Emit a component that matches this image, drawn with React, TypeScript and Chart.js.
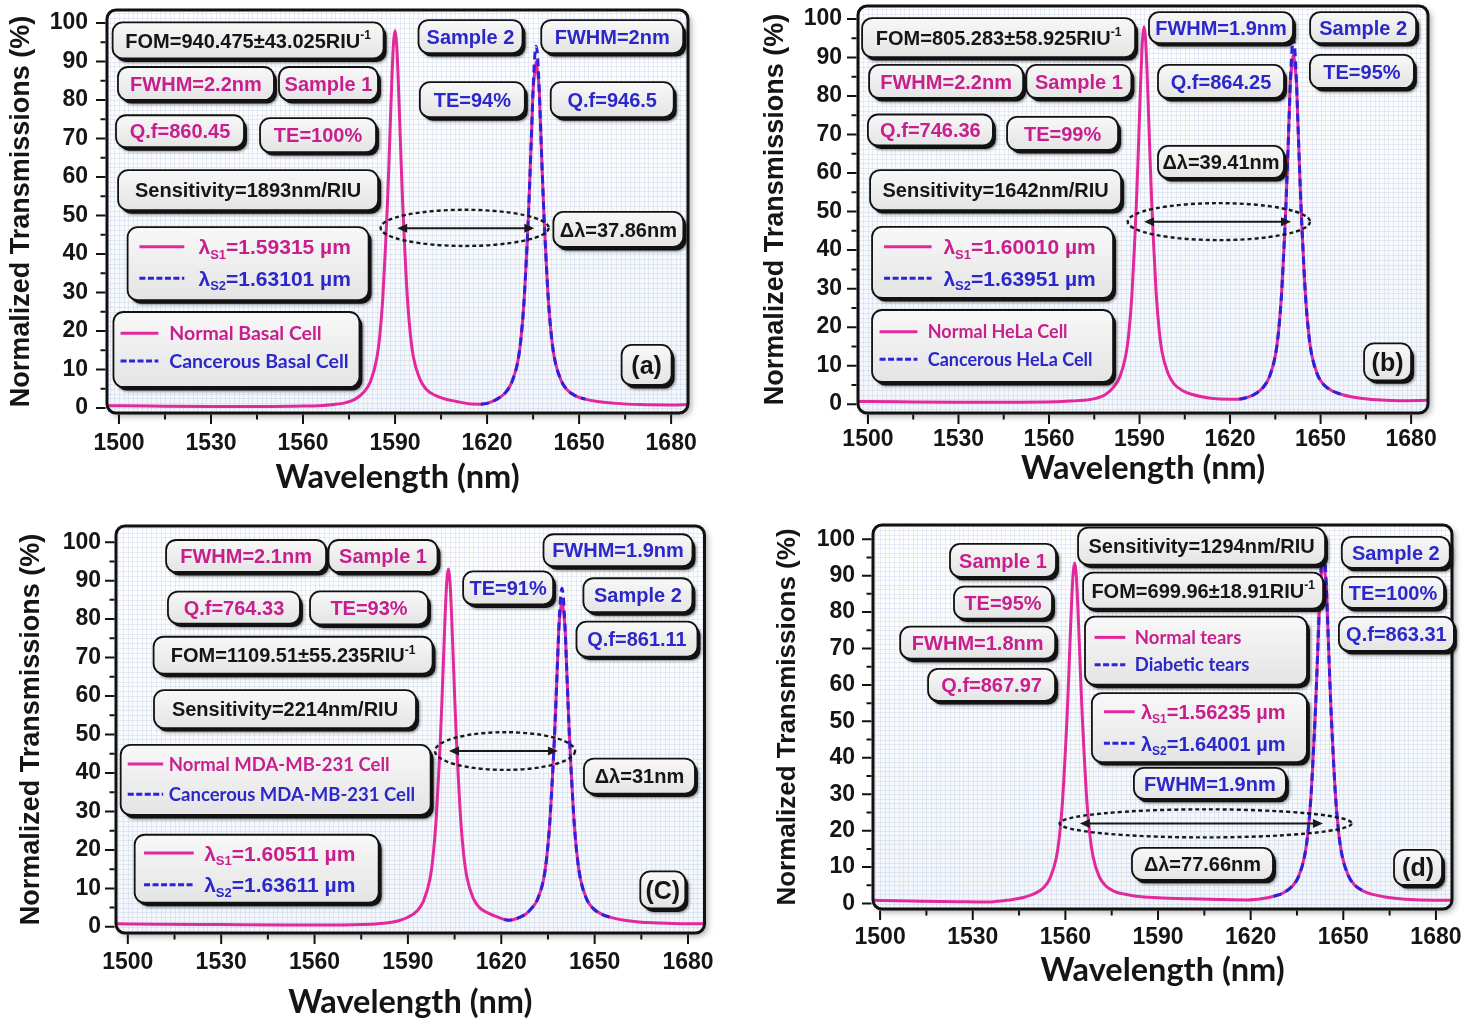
import { useEffect, useRef } from "react";
import { Chart, registerables } from "chart.js";

Chart.register(...registerables);

// ---------------- Data ----------------
const X_MAJOR_TICKS = [1500, 1530, 1560, 1590, 1620, 1650, 1680];
const X_MINOR_TICKS = [1515, 1545, 1575, 1605, 1635, 1665];
const Y_MAJOR_TICKS = [0, 10, 20, 30, 40, 50, 60, 70, 80, 90, 100];
const Y_MINOR_TICKS = [5, 15, 25, 35, 45, 55, 65, 75, 85, 95];
const X_TITLE = "Wavelength (nm)";
const Y_TITLE = "Normalized Transmissions (%)";

// Panel (a) – Basal cell
const A_NORMAL_WL = [1496, 1510, 1530, 1550, 1560, 1565, 1570, 1574, 1577, 1580, 1582, 1584, 1585, 1586, 1587, 1587.5, 1588, 1588.5, 1589, 1589.5, 1590, 1590.5, 1591, 1591.5, 1592, 1592.5, 1593, 1594, 1595, 1596, 1598, 1600, 1603, 1606, 1610, 1614, 1618, 1620, 1623, 1626, 1628, 1630, 1631, 1632, 1633, 1633.5, 1634, 1634.5, 1635, 1635.5, 1636, 1636.5, 1637, 1637.5, 1638, 1638.5, 1639, 1640, 1641, 1642, 1644, 1646, 1649, 1652, 1656, 1662, 1670, 1680, 1686];
const A_NORMAL_T = [0.6, 0.5, 0.4, 0.4, 0.5, 0.6, 0.9, 1.4, 2.3, 4.3, 6.9, 12.7, 18.6, 28.4, 43.8, 52.7, 63.3, 74.9, 86.1, 94.8, 98.0, 94.8, 86.1, 74.9, 63.4, 52.9, 44.1, 28.8, 19.1, 13.2, 7.7, 5.0, 3.3, 2.4, 1.7, 1.1, 1.0, 1.2, 2.2, 4.0, 6.6, 12.0, 17.7, 27.1, 41.8, 50.4, 60.6, 71.7, 82.5, 87.0, 90.0, 87.0, 82.6, 71.9, 60.9, 50.9, 42.4, 27.8, 18.5, 12.8, 7.4, 4.8, 3.1, 2.3, 1.7, 1.2, 0.9, 0.8, 0.9];
const A_CANCER_WL = [1618, 1620, 1623, 1626, 1628, 1630, 1631, 1632, 1633, 1633.5, 1634, 1634.5, 1635, 1635.5, 1636, 1636.5, 1637, 1637.5, 1638, 1638.5, 1639, 1640, 1641, 1642, 1644, 1646, 1649, 1652];
const A_CANCER_T = [1.0, 1.2, 2.2, 4.0, 6.6, 12.0, 17.7, 27.1, 41.8, 50.4, 60.6, 71.7, 82.5, 90.9, 94.0, 90.9, 82.6, 71.9, 60.9, 50.9, 42.4, 27.8, 18.5, 12.8, 7.4, 4.8, 3.1, 2.3];

// Panel (b) – HeLa cell
const B_NORMAL_WL = [1496, 1510, 1530, 1550, 1562, 1567, 1571.5, 1575.5, 1578.5, 1581.5, 1583.5, 1585.5, 1586.5, 1587.5, 1588.5, 1589, 1589.5, 1590, 1590.5, 1591, 1591.5, 1592, 1592.5, 1593, 1593.5, 1594, 1594.5, 1595.5, 1596.5, 1597.5, 1599.5, 1601.5, 1604.5, 1607.5, 1611.5, 1615.5, 1620, 1623, 1625, 1628, 1631, 1633, 1635, 1636, 1637, 1638, 1638.5, 1639, 1639.5, 1640, 1640.5, 1641, 1641.5, 1642, 1642.5, 1643, 1643.5, 1644, 1645, 1646, 1647, 1649, 1651, 1654, 1657, 1661, 1667, 1676, 1686];
const B_NORMAL_T = [0.7, 0.6, 0.5, 0.5, 0.6, 0.8, 1.0, 1.5, 2.4, 4.5, 7.1, 12.9, 18.8, 28.6, 44.0, 52.9, 63.5, 75.0, 86.2, 94.8, 98.0, 94.8, 86.2, 75.0, 63.6, 53.1, 44.3, 29.0, 19.3, 13.4, 7.9, 5.2, 3.4, 2.5, 1.8, 1.4, 1.3, 1.3, 1.6, 2.5, 4.4, 7.0, 12.6, 18.3, 27.8, 42.7, 51.3, 61.6, 72.8, 83.7, 88.0, 91.0, 88.0, 83.7, 72.9, 61.8, 51.6, 43.0, 28.2, 18.8, 13.1, 7.6, 5.1, 3.4, 2.5, 1.8, 1.2, 0.9, 1.0];
const B_CANCER_WL = [1623, 1625, 1628, 1631, 1633, 1635, 1636, 1637, 1638, 1638.5, 1639, 1639.5, 1640, 1640.5, 1641, 1641.5, 1642, 1642.5, 1643, 1643.5, 1644, 1645, 1646, 1647, 1649, 1651, 1654, 1657];
const B_CANCER_T = [1.3, 1.6, 2.5, 4.4, 7.0, 12.6, 18.3, 27.8, 42.7, 51.3, 61.6, 72.8, 83.7, 91.9, 95.0, 91.9, 83.7, 72.9, 61.8, 51.6, 43.0, 28.2, 18.8, 13.1, 7.6, 5.1, 3.4, 2.5];

// Panel (c) – MDA-MB-231 cell
const C_NORMAL_WL = [1496, 1510, 1530, 1550, 1566, 1578, 1583, 1587, 1590, 1593, 1595, 1597, 1598, 1599, 1600, 1600.5, 1601, 1601.5, 1602, 1602.5, 1603, 1603.5, 1604, 1604.5, 1605, 1605.5, 1606, 1607, 1608, 1609, 1611, 1613, 1616, 1619, 1621, 1622.5, 1624, 1626, 1628, 1629.5, 1631.5, 1633.5, 1634.5, 1635.5, 1636.5, 1637, 1637.5, 1638, 1638.5, 1639, 1639.5, 1640, 1640.5, 1641, 1641.5, 1642, 1642.5, 1643.5, 1644.5, 1645.5, 1647.5, 1649.5, 1652.5, 1655.5, 1659.5, 1665, 1675, 1686];
const C_NORMAL_T = [0.8, 0.7, 0.6, 0.5, 0.5, 0.7, 1.0, 1.6, 2.5, 4.2, 6.7, 12.1, 17.7, 27.0, 41.6, 50.0, 60.1, 71.1, 81.7, 89.9, 93.0, 89.9, 81.7, 71.1, 60.2, 50.2, 41.9, 27.4, 18.2, 12.7, 7.4, 5.0, 3.5, 2.5, 1.9, 1.7, 1.9, 2.5, 3.4, 4.6, 6.9, 12.0, 17.3, 26.1, 39.9, 47.8, 57.2, 67.5, 77.6, 82.0, 85.0, 82.0, 77.6, 67.5, 57.2, 47.8, 39.9, 26.2, 17.5, 12.2, 7.1, 4.8, 3.2, 2.4, 1.7, 1.2, 0.9, 0.8];
const C_CANCER_WL = [1621, 1622.5, 1624, 1626, 1628, 1629.5, 1631.5, 1633.5, 1634.5, 1635.5, 1636.5, 1637, 1637.5, 1638, 1638.5, 1639, 1639.5, 1640, 1640.5, 1641, 1641.5, 1642, 1642.5, 1643.5, 1644.5, 1645.5, 1647.5, 1649.5, 1652.5, 1655.5];
const C_CANCER_T = [1.9, 1.7, 1.9, 2.5, 3.4, 4.6, 6.9, 12.0, 17.3, 26.1, 39.9, 47.8, 57.2, 67.5, 77.6, 85.1, 88.0, 85.1, 77.6, 67.5, 57.2, 47.8, 39.9, 26.2, 17.5, 12.2, 7.1, 4.8, 3.2, 2.4];

// Panel (d) – tears
const D_NORMAL_WL = [1496, 1510, 1525, 1535, 1538, 1543, 1547, 1550, 1553, 1555, 1557, 1558, 1559, 1560, 1560.5, 1561, 1561.5, 1562, 1562.5, 1563, 1563.5, 1564, 1564.5, 1565, 1565.5, 1566, 1567, 1568, 1569, 1571, 1573, 1576, 1579, 1583, 1590, 1600, 1610, 1619, 1624, 1627.5, 1630.5, 1633.5, 1635.5, 1637.5, 1638.5, 1639.5, 1640.5, 1641, 1641.5, 1642, 1642.5, 1643, 1643.5, 1644, 1644.5, 1645, 1645.5, 1646, 1646.5, 1647.5, 1648.5, 1649.5, 1651.5, 1653.5, 1656.5, 1659.5, 1663.5, 1670, 1680, 1686];
const D_NORMAL_T = [0.9, 0.7, 0.5, 0.4, 0.6, 1.1, 1.8, 2.7, 4.4, 6.9, 12.3, 17.9, 27.2, 41.9, 50.4, 60.5, 71.5, 82.3, 90.5, 93.5, 90.5, 82.3, 71.6, 60.7, 50.7, 42.3, 27.6, 18.3, 12.7, 7.3, 4.9, 3.3, 2.6, 2.0, 1.6, 1.3, 1.1, 1.0, 1.4, 2.0, 2.9, 4.8, 7.4, 13.2, 19.1, 29.0, 44.6, 53.6, 64.3, 75.9, 87.3, 91.0, 94.0, 91.0, 87.3, 75.9, 64.3, 53.6, 44.6, 29.3, 19.5, 13.6, 7.9, 5.2, 3.4, 2.5, 1.8, 1.2, 0.9, 0.9];
const D_CANCER_WL = [1627.5, 1630.5, 1633.5, 1635.5, 1637.5, 1638.5, 1639.5, 1640.5, 1641, 1641.5, 1642, 1642.5, 1643, 1643.5, 1644, 1644.5, 1645, 1645.5, 1646, 1646.5, 1647.5, 1648.5, 1649.5, 1651.5, 1653.5, 1656.5];
const D_CANCER_T = [2.0, 2.9, 4.8, 7.4, 13.2, 19.1, 29.0, 44.6, 53.6, 64.3, 75.9, 87.3, 95.7, 99.0, 95.7, 87.3, 75.9, 64.3, 53.6, 44.6, 29.3, 19.5, 13.6, 7.9, 5.2, 3.4];

// ---------------- Styles ----------------
const INK = "#151515";
const MAG_LINE = "#e2289d";
const BLU_LINE = "#2a22dc";
const MAG_TXT = "#c81f8e";
const BLU_TXT = "#2b28c9";
const SANS = '"Liberation Sans", Arial, Helvetica, sans-serif';
const LEG = 'Lato, "Open Sans", sans-serif';

const P = (t: string) => ({ t });
const SUP = (t: string) => ({ t, sup: true });
const SUB = (t: string) => ({ t, sub: true });

function textBox(x: number, y: number, w: number, h: number, parts: any[], color: string, size = 20) {
  return { kind: "text", x, y, w, h, parts, color, size };
}
function lambdaLegend(x: number, y: number, w: number, h: number, l1: string, l2: string, o: any) {
  return {
    kind: "legend", x, y, w, h, family: SANS, weight: "bold", ...o,
    rows: [
      { parts: [P("λ"), SUB("S1"), P("=" + l1 + " µm")], color: MAG_TXT, dashed: false },
      { parts: [P("λ"), SUB("S2"), P("=" + l2 + " µm")], color: BLU_TXT, dashed: true },
    ],
  };
}
function seriesLegend(x: number, y: number, w: number, h: number, n1: string, n2: string, o: any) {
  return {
    kind: "legend", x, y, w, h, family: LEG, weight: "bold", ...o,
    rows: [
      { parts: [P(n1)], color: MAG_TXT, dashed: false },
      { parts: [P(n2)], color: BLU_TXT, dashed: true },
    ],
  };
}

const PANEL_A = {
  pos: { left: 0, top: 0, width: 740, height: 500 },
  area: { left: 107, top: 10, right: 688, bottom: 413 },
  xMin: 1496.1, xMax: 1685.5, yMin: -1.3, yMax: 103.4,
  normal: [A_NORMAL_WL, A_NORMAL_T], cancer: [A_CANCER_WL, A_CANCER_T],
  yLabelPad: 19, xLabelPad: 16.5, xTitlePad: 3, yTitlePad: 5, yTitleSize: 27,
  boxes: [
    textBox(1542.1, 95.5, 271, 36, [P("FOM=940.475±43.025RIU"), SUP("-1")], INK),
    textBox(1525.1, 84.3, 156, 33, [P("FWHM=2.2nm")], MAG_TXT),
    textBox(1568.3, 84.3, 99, 33, [P("Sample 1")], MAG_TXT),
    textBox(1519.9, 71.9, 128, 32, [P("Q.f=860.45")], MAG_TXT),
    textBox(1564.9, 70.9, 116, 34, [P("TE=100%")], MAG_TXT),
    textBox(1542.1, 56.6, 260, 40, [P("Sensitivity=1893nm/RIU")], INK),
    lambdaLegend(1542.1, 37.5, 241, 73, "1.59315", "1.63101", { rowY: [19.7, 51], sample: [11.8, 56.7], textX: 70.9, size: 21 }),
    seriesLegend(1538.3, 15.2, 246, 75, "Normal Basal Cell", "Cancerous Basal Cell", { rowY: [21.3, 49], sample: [7.1, 44.9], textX: 55.8, size: 19.5 }),
    textBox(1614.6, 96.5, 104, 33, [P("Sample 2")], BLU_TXT),
    textBox(1660.8, 96.5, 142, 33, [P("FWHM=2nm")], BLU_TXT),
    textBox(1615.2, 80.1, 105, 35, [P("TE=94%")], BLU_TXT),
    textBox(1660.8, 80.1, 123, 35, [P("Q.f=946.5")], BLU_TXT),
    textBox(1662.8, 46.4, 130, 35, [P("Δλ=37.86nm")], INK),
    textBox(1672.0, 11.2, 50, 40, [P("(a)")], INK, 25),
  ],
  ellipse: { x: 1612.7, y: 46.8, rx: 27.4, ry: 4.7 },
  arrow: { x1: 1590.7, x2: 1635.4, y: 46.7 },
};

const PANEL_B = {
  pos: { left: 740, top: 0, width: 741, height: 500 },
  area: { left: 118, top: 6, right: 688, bottom: 413 },
  xMin: 1496.7, xMax: 1685.6, yMin: -2.3, yMax: 103.4,
  normal: [B_NORMAL_WL, B_NORMAL_T], cancer: [B_CANCER_WL, B_CANCER_T],
  yLabelPad: 16, xLabelPad: 13, xTitlePad: 12, yTitlePad: 19, yTitleSize: 27,
  boxes: [
    textBox(1543.3, 95.2, 273, 39, [P("FOM=805.283±58.925RIU"), SUP("-1")], INK),
    textBox(1525.9, 83.8, 154, 33, [P("FWHM=2.2nm")], MAG_TXT),
    textBox(1569.9, 83.8, 105, 33, [P("Sample 1")], MAG_TXT),
    textBox(1520.7, 71.2, 125, 31, [P("Q.f=746.36")], MAG_TXT),
    textBox(1564.5, 70.3, 111, 33, [P("TE=99%")], MAG_TXT),
    textBox(1542.3, 55.6, 251, 40, [P("Sensitivity=1642nm/RIU")], INK),
    lambdaLegend(1541.3, 36.8, 241, 71, "1.60010", "1.63951", { rowY: [19.7, 51.3], sample: [12, 59.5], textX: 71.3, size: 21 }),
    seriesLegend(1541.3, 15.1, 241, 72, "Normal HeLa Cell", "Cancerous HeLa Cell", { rowY: [21.7, 49.3], sample: [7.5, 45.3], textX: 55.7, size: 18 }),
    textBox(1617.0, 97.8, 144, 31, [P("FWHM=1.9nm")], BLU_TXT),
    textBox(1664.1, 97.8, 106, 31, [P("Sample 2")], BLU_TXT),
    textBox(1617.0, 83.8, 126, 33, [P("Q.f=864.25")], BLU_TXT),
    textBox(1663.7, 86.4, 104, 33, [P("TE=95%")], BLU_TXT),
    textBox(1617.0, 62.9, 126, 32, [P("Δλ=39.41nm")], INK),
    textBox(1672.2, 11.0, 47, 37, [P("(b)")], INK, 25),
  ],
  ellipse: { x: 1616.3, y: 47.4, rx: 30.2, ry: 4.8 },
  arrow: { x1: 1591.5, x2: 1640.2, y: 47.4 },
};

const PANEL_C = {
  pos: { left: 0, top: 510, width: 740, height: 515 },
  area: { left: 116, top: 16, right: 704.5, bottom: 423 },
  xMin: 1496.2, xMax: 1685.3, yMin: -1.6, yMax: 104.2,
  normal: [C_NORMAL_WL, C_NORMAL_T], cancer: [C_CANCER_WL, C_CANCER_T],
  yLabelPad: 15, xLabelPad: 16, xTitlePad: 2.5, yTitlePad: 15, yTitleSize: 27,
  boxes: [
    textBox(1538.0, 96.4, 160, 32, [P("FWHM=2.1nm")], MAG_TXT),
    textBox(1582.0, 96.4, 109, 32, [P("Sample 1")], MAG_TXT),
    textBox(1534.1, 83.0, 132, 32, [P("Q.f=764.33")], MAG_TXT),
    textBox(1577.5, 82.9, 118, 33, [P("TE=93%")], MAG_TXT),
    textBox(1553.1, 70.6, 279, 37, [P("FOM=1109.51±55.235RIU"), SUP("-1")], INK),
    textBox(1550.5, 56.6, 262, 38, [P("Sensitivity=2214nm/RIU")], INK),
    seriesLegend(1547.5, 38.2, 310, 70, "Normal MDA-MB-231 Cell", "Cancerous MDA-MB-231 Cell", { rowY: [19, 49.4], sample: [7.1, 42.5], textX: 48.2, size: 18.5 }),
    lambdaLegend(1541.4, 15.1, 244, 68, "1.60511", "1.63611", { rowY: [18.3, 50], sample: [9.4, 59.1], textX: 69.5, size: 21 }),
    textBox(1622.2, 88.1, 90, 33, [P("TE=91%")], BLU_TXT),
    textBox(1657.5, 97.9, 149, 32, [P("FWHM=1.9nm")], BLU_TXT),
    textBox(1663.9, 86.2, 109, 34, [P("Sample 2")], BLU_TXT),
    textBox(1663.6, 74.8, 121, 35, [P("Q.f=861.11")], BLU_TXT),
    textBox(1664.4, 39.2, 111, 35, [P("Δλ=31nm")], INK),
    textBox(1671.9, 9.6, 45, 37, [P("(C)")], INK, 25),
  ],
  ellipse: { x: 1621.2, y: 45.7, rx: 22.5, ry: 4.9 },
  arrow: { x1: 1603.2, x2: 1638.2, y: 45.7 },
};

const PANEL_D = {
  pos: { left: 740, top: 510, width: 741, height: 515 },
  area: { left: 133, top: 15, right: 712, bottom: 399 },
  xMin: 1497.7, xMax: 1685.2, yMin: -1.5, yMax: 103.9,
  normal: [D_NORMAL_WL, D_NORMAL_T], cancer: [D_CANCER_WL, D_CANCER_T],
  yLabelPad: 18, xLabelPad: 15, xTitlePad: 35, yTitlePad: 32, yTitleSize: 26,
  boxes: [
    textBox(1539.8, 94.2, 106, 33, [P("Sample 1")], MAG_TXT),
    textBox(1539.8, 82.6, 98, 32, [P("TE=95%")], MAG_TXT),
    textBox(1531.6, 71.6, 155, 32, [P("FWHM=1.8nm")], MAG_TXT),
    textBox(1536.1, 60.0, 127, 32, [P("Q.f=867.97")], MAG_TXT),
    textBox(1604.1, 98.1, 247, 37, [P("Sensitivity=1294nm/RIU")], INK),
    textBox(1604.6, 85.9, 240, 36, [P("FOM=699.96±18.91RIU"), SUP("-1")], INK),
    seriesLegend(1602.3, 69.4, 222, 68, "Normal tears", "Diabetic tears", { rowY: [20.7, 48], sample: [9.6, 40.3], textX: 49.8, size: 18.5 }),
    lambdaLegend(1603.4, 48.3, 215, 69, "1.56235", "1.64001", { rowY: [18.7, 50.3], sample: [12, 42.8], textX: 49, size: 20 }),
    textBox(1606.8, 33.0, 152, 31, [P("FWHM=1.9nm")], BLU_TXT),
    textBox(1604.4, 10.9, 141, 32, [P("Δλ=77.66nm")], INK),
    textBox(1667.0, 96.4, 108, 31, [P("Sample 2")], BLU_TXT),
    textBox(1666.1, 85.4, 102, 31, [P("TE=100%")], BLU_TXT),
    textBox(1667.2, 74.0, 115, 34, [P("Q.f=863.31")], BLU_TXT),
    textBox(1674.2, 9.9, 48, 35, [P("(d)")], INK, 25),
  ],
  ellipse: { x: 1605.4, y: 22.0, rx: 47.3, ry: 3.85 },
  arrow: { x1: 1564.7, x2: 1643.4, y: 22.0 },
};

const PANELS = [PANEL_A, PANEL_B, PANEL_C, PANEL_D];

// ---------------- Drawing helpers ----------------
function rr(ctx: CanvasRenderingContext2D, x: number, y: number, w: number, h: number, r: number) {
  ctx.beginPath();
  ctx.moveTo(x + r, y);
  ctx.arcTo(x + w, y, x + w, y + h, r);
  ctx.arcTo(x + w, y + h, x, y + h, r);
  ctx.arcTo(x, y + h, x, y, r);
  ctx.arcTo(x, y, x + w, y, r);
  ctx.closePath();
}

function drawRich(ctx: CanvasRenderingContext2D, parts: any[], x: number, y: number, size: number, family: string, weight: string, color: string, align: string) {
  const sm = Math.round(size * 0.62);
  const segs = parts.map((p: any) => {
    const s = p.sup || p.sub ? sm : size;
    ctx.font = `${weight} ${s}px ${family}`;
    return { p, s, w: ctx.measureText(p.t).width };
  });
  const total = segs.reduce((a: number, b: any) => a + b.w, 0);
  let cx = align === "center" ? x - total / 2 : x;
  const base = y + size * 0.36;
  ctx.fillStyle = color;
  ctx.textAlign = "left";
  ctx.textBaseline = "alphabetic";
  for (const sg of segs) {
    ctx.font = `${weight} ${sg.s}px ${family}`;
    const dy = sg.p.sup ? -size * 0.42 : sg.p.sub ? size * 0.22 : 0;
    ctx.fillText(sg.p.t, cx, base + dy);
    cx += sg.w;
  }
}

function drawBox(ctx: CanvasRenderingContext2D, x: number, y: number, w: number, h: number) {
  const r = Math.min(10, h / 3);
  ctx.save();
  ctx.shadowColor = "rgba(0,0,0,0.45)";
  ctx.shadowBlur = 3;
  ctx.shadowOffsetX = 1;
  ctx.shadowOffsetY = 1;
  rr(ctx, x + 3, y + 3.5, w, h, r);
  ctx.fillStyle = "#121212";
  ctx.fill();
  ctx.restore();
  ctx.save();
  const g = ctx.createLinearGradient(0, y, 0, y + h);
  g.addColorStop(0, "#f8f8f8");
  g.addColorStop(1, "#e4e4e4");
  rr(ctx, x, y, w, h, r);
  ctx.fillStyle = g;
  ctx.fill();
  ctx.lineWidth = 1.8;
  ctx.strokeStyle = "#121212";
  ctx.stroke();
  ctx.restore();
}

function decorPlugin(spec: any) {
  return {
    id: "decor",
    beforeDatasetsDraw(chart: any) {
      const { ctx, chartArea: a } = chart;
      const xs = chart.scales.x;
      const ys = chart.scales.y;
      const w = a.right - a.left;
      const h = a.bottom - a.top;
      ctx.save();
      ctx.shadowColor = "rgba(0,0,0,0.35)";
      ctx.shadowBlur = 6;
      ctx.shadowOffsetX = 3;
      ctx.shadowOffsetY = 3;
      rr(ctx, a.left, a.top, w, h, 9);
      ctx.fillStyle = "#fbfcfe";
      ctx.fill();
      ctx.restore();
      ctx.save();
      rr(ctx, a.left, a.top, w, h, 9);
      ctx.clip();
      const g = ctx.createLinearGradient(0, a.top, 0, a.bottom);
      g.addColorStop(0, "#fefeff");
      g.addColorStop(1, "#f2f6fb");
      ctx.fillStyle = g;
      ctx.fillRect(a.left, a.top, w, h);
      ctx.strokeStyle = "rgba(150,172,205,0.2)";
      ctx.lineWidth = 1;
      ctx.beginPath();
      for (let v = 1494; v <= spec.xMax; v += 1.5) {
        const px = Math.round(xs.getPixelForValue(v)) + 0.5;
        ctx.moveTo(px, a.top);
        ctx.lineTo(px, a.bottom);
      }
      for (let v = -2.5; v <= spec.yMax; v += 1.25) {
        const py = Math.round(ys.getPixelForValue(v)) + 0.5;
        ctx.moveTo(a.left, py);
        ctx.lineTo(a.right, py);
      }
      ctx.stroke();
      ctx.restore();
    },
    afterDatasetsDraw(chart: any) {
      const { ctx, chartArea: a } = chart;
      const xs = chart.scales.x;
      const ys = chart.scales.y;
      // frame
      ctx.save();
      rr(ctx, a.left, a.top, a.right - a.left, a.bottom - a.top, 9);
      ctx.lineWidth = 3;
      ctx.strokeStyle = "#111";
      ctx.stroke();
      // tick marks
      ctx.lineWidth = 2;
      ctx.beginPath();
      for (const t of xs.ticks) {
        const px = xs.getPixelForValue(t.value);
        const major = X_MAJOR_TICKS.includes(t.value);
        ctx.moveTo(px, a.bottom + 1.5);
        ctx.lineTo(px, a.bottom + (major ? 11 : 6.5));
      }
      for (const t of ys.ticks) {
        const py = ys.getPixelForValue(t.value);
        const major = Y_MAJOR_TICKS.includes(t.value);
        ctx.moveTo(a.left - 1.5, py);
        ctx.lineTo(a.left - (major ? 11 : 6.5), py);
      }
      ctx.stroke();
      ctx.restore();

      // dashed ellipse + double arrow
      const e = spec.ellipse;
      const ex = xs.getPixelForValue(e.x);
      const ey = ys.getPixelForValue(e.y);
      const erx = Math.abs(xs.getPixelForValue(e.x + e.rx) - ex);
      const ery = Math.abs(ys.getPixelForValue(e.y + e.ry) - ey);
      ctx.save();
      ctx.setLineDash([4, 3]);
      ctx.lineWidth = 2.4;
      ctx.strokeStyle = "#1a1a1a";
      ctx.beginPath();
      ctx.ellipse(ex, ey, erx, ery, 0, 0, Math.PI * 2);
      ctx.stroke();
      ctx.setLineDash([]);
      const ar = spec.arrow;
      const ax1 = xs.getPixelForValue(ar.x1);
      const ax2 = xs.getPixelForValue(ar.x2);
      const ay = ys.getPixelForValue(ar.y);
      ctx.lineWidth = 2;
      ctx.beginPath();
      ctx.moveTo(ax1 + 6, ay);
      ctx.lineTo(ax2 - 6, ay);
      ctx.stroke();
      ctx.fillStyle = "#1a1a1a";
      ctx.beginPath();
      ctx.moveTo(ax1, ay);
      ctx.lineTo(ax1 + 10, ay - 4.5);
      ctx.lineTo(ax1 + 10, ay + 4.5);
      ctx.closePath();
      ctx.fill();
      ctx.beginPath();
      ctx.moveTo(ax2, ay);
      ctx.lineTo(ax2 - 10, ay - 4.5);
      ctx.lineTo(ax2 - 10, ay + 4.5);
      ctx.closePath();
      ctx.fill();
      ctx.restore();

      // annotation boxes
      for (const b of spec.boxes) {
        const cx = xs.getPixelForValue(b.x);
        const cy = ys.getPixelForValue(b.y);
        const left = cx - b.w / 2;
        const top = cy - b.h / 2;
        drawBox(ctx, left, top, b.w, b.h);
        ctx.save();
        if (b.kind === "text") {
          drawRich(ctx, b.parts, cx, cy, b.size, SANS, "bold", b.color, "center");
        } else {
          b.rows.forEach((row: any, i: number) => {
            const ry = top + b.rowY[i];
            const sx0 = left + b.sample[0];
            const sx1 = left + b.sample[1];
            ctx.save();
            ctx.lineWidth = 3;
            ctx.beginPath();
            ctx.moveTo(sx0, ry);
            ctx.lineTo(sx1, ry);
            if (row.dashed) {
              ctx.setLineDash([6, 2.5]);
              ctx.strokeStyle = BLU_LINE;
            } else {
              ctx.strokeStyle = MAG_LINE;
            }
            ctx.stroke();
            ctx.restore();
            drawRich(ctx, row.parts, left + b.textX, ry, b.size, b.family, b.weight, row.color, "left");
          });
        }
        ctx.restore();
      }
    },
  };
}

function makeChart(canvas: HTMLCanvasElement, p: any) {
  const W = p.pos.width;
  const H = p.pos.height;
  const tickFont = { family: SANS, size: 23, weight: "bold" };
  const xTicks = [...X_MAJOR_TICKS, ...X_MINOR_TICKS].sort((a, b) => a - b);
  const yTicks = [...Y_MAJOR_TICKS, ...Y_MINOR_TICKS].sort((a, b) => a - b);
  return new Chart(canvas, {
    type: "line",
    data: {
      datasets: [
        {
          label: "normal",
          data: p.normal[0].map((x: number, i: number) => ({ x, y: p.normal[1][i] })),
          borderColor: MAG_LINE,
          borderWidth: 3,
          pointRadius: 0,
          cubicInterpolationMode: "monotone",
          fill: false,
          order: 2,
        },
        {
          label: "cancer",
          data: p.cancer[0].map((x: number, i: number) => ({ x, y: p.cancer[1][i] })),
          borderColor: BLU_LINE,
          borderWidth: 3,
          borderDash: [8, 5],
          pointRadius: 0,
          cubicInterpolationMode: "monotone",
          fill: false,
          order: 1,
        },
      ],
    },
    options: {
      animation: false,
      responsive: false,
      maintainAspectRatio: false,
      events: [],
      layout: { padding: { left: 0, top: p.area.top, right: W - p.area.right, bottom: 0 } },
      plugins: { legend: { display: false }, tooltip: { enabled: false }, title: { display: false } },
      scales: {
        x: {
          type: "linear",
          min: p.xMin,
          max: p.xMax,
          afterBuildTicks: (s: any) => {
            s.ticks = xTicks.map((v) => ({ value: v }));
          },
          afterFit: (s: any) => {
            s.height = H - p.area.bottom;
            s.paddingLeft = 0;
            s.paddingRight = 0;
            s.paddingTop = 0;
            s.paddingBottom = 0;
          },
          ticks: {
            autoSkip: false,
            maxRotation: 0,
            minRotation: 0,
            padding: p.xLabelPad,
            color: INK,
            font: tickFont,
            callback: (v: any) => (X_MAJOR_TICKS.includes(v) ? String(v) : ""),
          },
          grid: { display: false, drawTicks: false },
          border: { display: false },
          title: {
            display: true,
            text: X_TITLE,
            color: INK,
            font: { family: LEG, size: 32.5, weight: "bold" },
            padding: { top: 0, bottom: p.xTitlePad },
          },
        },
        y: {
          type: "linear",
          min: p.yMin,
          max: p.yMax,
          afterBuildTicks: (s: any) => {
            s.ticks = yTicks.map((v) => ({ value: v }));
          },
          afterFit: (s: any) => {
            s.width = p.area.left;
            s.paddingLeft = 0;
            s.paddingRight = 0;
            s.paddingTop = 0;
            s.paddingBottom = 0;
          },
          ticks: {
            autoSkip: false,
            padding: p.yLabelPad,
            color: INK,
            font: tickFont,
            callback: (v: any) => (Y_MAJOR_TICKS.includes(v) ? String(v) : ""),
          },
          grid: { display: false, drawTicks: false },
          border: { display: false },
          title: {
            display: true,
            text: Y_TITLE,
            color: INK,
            font: { family: SANS, size: p.yTitleSize, weight: "bold" },
            padding: { top: p.yTitlePad, bottom: 0 },
          },
        },
      },
    } as any,
    plugins: [decorPlugin(p)],
  } as any);
}

function PanelChart({ spec }: { spec: any }) {
  const ref = useRef<HTMLCanvasElement | null>(null);
  useEffect(() => {
    if (!ref.current) return;
    const chart = makeChart(ref.current, spec);
    return () => chart.destroy();
  }, [spec]);
  return (
    <canvas
      ref={ref}
      width={spec.pos.width}
      height={spec.pos.height}
      style={{ position: "absolute", left: spec.pos.left, top: spec.pos.top, width: spec.pos.width, height: spec.pos.height }}
    />
  );
}

export default function App() {
  return (
    <div style={{ position: "absolute", left: 0, top: 0, width: 1481, height: 1025, background: "#ffffff", overflow: "hidden" }}>
      {PANELS.map((p, i) => (
        <PanelChart key={i} spec={p} />
      ))}
    </div>
  );
}
